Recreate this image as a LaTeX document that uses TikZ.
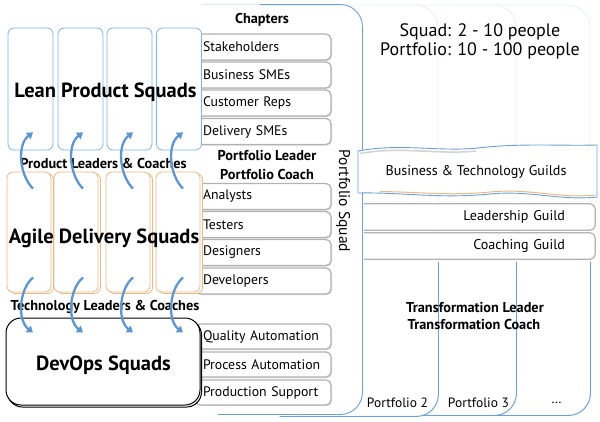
\documentclass[tikz,border=0pt]{standalone}
\usepackage{fontspec}
\setmainfont{PT Sans}
\usetikzlibrary{arrows.meta,shadows}
\definecolor{panelblue}{RGB}{110,160,210}
\definecolor{leanblue}{RGB}{130,180,225}
\definecolor{agileorange}{RGB}{235,185,135}
\definecolor{flowblue}{RGB}{95,150,205}
\begin{document}
\begin{tikzpicture}[
       x=1pt, y=-1pt,
       panel/.style={
         draw=panelblue!15,
         fill=white,
         line width=0.9pt,
         rounded corners=22pt,
         minimum height=410pt,
         inner sep=0pt
       },
       edge/.style={
         draw=panelblue,
         line width=0.9pt,
         rounded corners=22pt
       },
       lean/.style={
         draw=leanblue,
         fill=white,
         line width=0.8pt,
         rounded corners=6pt,
         minimum width=45pt,
         minimum height=122pt
       },
       agile/.style={
         draw=agileorange,
         fill=white,
         line width=0.8pt,
         rounded corners=6pt,
         minimum width=44pt,
         minimum height=120pt,
         copy shadow={shadow xshift=2.5pt,shadow yshift=-1.5pt}
       },
       devops/.style={
         draw=black,
         fill=white,
         line width=1pt,
         rounded corners=15pt,
         minimum width=194pt,
         minimum height=87pt,
         copy shadow={shadow xshift=1.5pt,shadow yshift=-2pt}
       },
       chapter/.style={
         draw=gray!60,
         fill=white,
         line width=1.2pt,
         rounded corners=5pt,
         minimum width=136pt,
         minimum height=26pt,
         text width=120pt,
         align=left,
         inner xsep=8pt,
         inner ysep=0pt,
         font=\fontsize{13.8}{16}\selectfont,
         drop shadow={shadow xshift=1pt,shadow yshift=-1pt,opacity=0.3}
       },
       guild/.style={
         fill=white,
         minimum width=231pt,
         minimum height=26pt,
         text width=171pt,
         align=right,
         inner xsep=30pt,
         inner ysep=0pt,
         font=\fontsize{14.1}{16}\selectfont
       },
       guildline/.style={
         draw=gray!60,
         line width=1.2pt,
         rounded corners=5pt
       },
       squadtext/.style={font=\fontsize{20.5}{23}\selectfont\bfseries},
       boldtext/.style={font=\fontsize{14.3}{16}\selectfont\bfseries},
       plain/.style={font=\fontsize{14.1}{16}\selectfont},
       sizetext/.style={font=\fontsize{18}{20}\selectfont},
       portlabel/.style={font=\fontsize{13.5}{15}\selectfont},
       flow/.style={
         draw=flowblue,
         line width=2.3pt,
         -{Triangle[width=8pt,length=6pt]}
       }
     ]

       \useasboundingbox (0,0) rectangle (600,421);

       \node (p4) at (515,210) [panel,minimum width=150pt]{};
       \draw[edge] (p4.east |- 0,262) -- (p4.south east) -- (p4.south west);
       \node (p3) at (438,210) [panel,minimum width=156pt]{};
       \draw[edge] (p3.east |- 0,262) -- (p3.south east) -- (p3.south west);
       \node (p2) at (359,210.5) [panel,minimum width=158pt,minimum height=411pt]{};
       \draw[edge] (p2.east |- 0,262) -- (p2.south east) -- (p2.south west);
       \node (p1) at (281,209.5) [panel,draw=none,minimum width=162pt,minimum height=409pt]{};
       \draw[edge] ([xshift=18pt]p1.south west) -- (p1.south east) -- (p1.north east) -- ([xshift=60pt]p1.north west);
       \draw[panelblue!25,line width=0.9pt] ([xshift=60pt]p1.north west) -- ([xshift=2pt]p1.north west);

       \node (p2lab) at (397.5,403) [portlabel]{Portfolio 2};
       \node (p3lab) at (478.5,403) [portlabel]{Portfolio 3};
       \node (p4lab) at (556.5,403) [portlabel]{\dots};
       \node (psquad) at (343,201) [rotate=-90,font=\fontsize{15.5}{17}\selectfont]{Portfolio Squad};

       \node (squadsize) at (480,32) [sizetext]{Squad: 2 - 10 people};
       \node (portsize) at (480,51) [sizetext]{Portfolio: 10 - 100 people};

       \draw[draw=panelblue,fill=white,line width=0.9pt] (358,151) .. controls (400,143) and (440,152) .. (478,148) .. controls (520,143) and (560,146) .. (597,145) -- (597,197) .. controls (560,201) and (530,190) .. (490,194) .. controls (440,199) and (400,192) .. (358,193) -- cycle;
       \draw[gray!35,line width=1.5pt] (360,153.5) .. controls (400,146) and (440,155) .. (476,151);
       \draw[agileorange,line width=1pt] (595,195) .. controls (560,199) and (530,188) .. (490,192) .. controls (450,196) and (420,192) .. (380,191.5);
       \node (guilds) at (476,172) [plain]{Business \& Technology Guilds};

       \node (lead) at (479.5,217) [guild]{Leadership Guild};
       \draw[guildline] (lead.north west) -- (lead.north east) -- (lead.south east) -- (lead.south west);
       \node (coach) at (479.5,246) [guild]{Coaching Guild};
       \draw[guildline] (coach.north west) -- (coach.north east) -- (coach.south east) -- (coach.south west);

       \node (tleader) at (475,308) [boldtext]{Transformation Leader};
       \node (tcoach) at (474,324) [boldtext]{Transformation Coach};

       \node (chap) at (262,20) [boldtext]{Chapters};
       \node (stake) at (263,47) [chapter]{Stakeholders};
       \node (bsme) at (263,75) [chapter]{Business SMEs};
       \node (crep) at (263,103) [chapter]{Customer Reps};
       \node (dsme) at (263,131.5) [chapter]{Delivery SMEs};
       \node (pleader) at (267,156) [boldtext]{Portfolio Leader};
       \node (pcoach) at (267,174) [boldtext]{Portfolio Coach};
       \node (analysts) at (263,196.5) [chapter]{Analysts};
       \node (testers) at (263,224.5) [chapter]{Testers};
       \node (designers) at (263,252.5) [chapter]{Designers};
       \node (developers) at (263,281) [chapter]{Developers};
       \node (quality) at (263,336.5) [chapter,minimum height=25pt]{Quality Automation};
       \node (process) at (263,364.5) [chapter,minimum height=25pt]{Process Automation};
       \node (support) at (263,392.5) [chapter,minimum height=25pt]{Production Support};

       \node (lean1) at (30.5,89) [lean]{};
       \node (lean2) at (80.5,89) [lean]{};
       \node (lean3) at (129.5,89) [lean]{};
       \node (lean4) at (179,89) [lean]{};
       \node (agile1) at (29,232) [agile]{};
       \node (agile2) at (76,232) [agile]{};
       \node (agile3) at (128,232) [agile]{};
       \node (agile4) at (178,232) [agile]{};
       \node (devops) at (103,361.5) [devops]{};

       \node (leantext) at (105.5,92) [squadtext]{Lean Product Squads};
       \node (agiletext) at (104,238) [squadtext]{Agile Delivery Squads};
       \node (devopstext) at (103.5,365) [squadtext]{DevOps Squads};
       \node (prodlead) at (103.5,163) [boldtext]{Product Leaders \& Coaches};
       \node (techlead) at (105,307) [boldtext]{Technology Leaders \& Coaches};

       \draw[flow] ([xshift=4pt,yshift=-17pt]agile1.north) .. controls +(-14,-14) and +(-16,12) .. ([xshift=2.5pt,yshift=18pt]lean1.south);
       \draw[flow] ([xshift=7pt,yshift=-17pt]agile2.north) .. controls +(-14,-14) and +(-16,12) .. ([xshift=2.5pt,yshift=18pt]lean2.south);
       \draw[flow] ([xshift=5pt,yshift=-17pt]agile3.north) .. controls +(-14,-14) and +(-16,12) .. ([xshift=3.5pt,yshift=18pt]lean3.south);
       \draw[flow] ([xshift=5pt,yshift=-17pt]agile4.north) .. controls +(-14,-14) and +(-16,12) .. ([xshift=4pt,yshift=18pt]lean4.south);

       \draw[flow] ([xshift=4pt,yshift=15pt]agile1.south) .. controls +(-14,12) and +(-16,-12) .. ([xshift=-70pt,yshift=-15pt]devops.north);
       \draw[flow] ([xshift=7pt,yshift=15pt]agile2.south) .. controls +(-14,12) and +(-16,-12) .. ([xshift=-20pt,yshift=-15pt]devops.north);
       \draw[flow] ([xshift=5pt,yshift=15pt]agile3.south) .. controls +(-14,12) and +(-16,-12) .. ([xshift=30pt,yshift=-15pt]devops.north);
       \draw[flow] ([xshift=5pt,yshift=15pt]agile4.south) .. controls +(-14,12) and +(-16,-12) .. ([xshift=80pt,yshift=-15pt]devops.north);

\end{tikzpicture}
\end{document}
